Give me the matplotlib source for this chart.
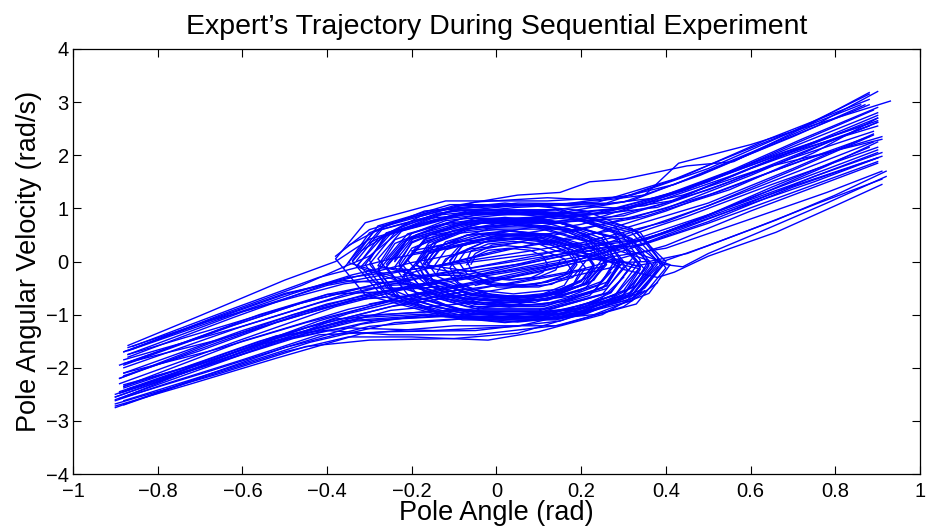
import matplotlib
matplotlib.use("Agg")
import matplotlib.pyplot as plt

# Pole angle / angular velocity samples, one list of (angle, velocity) per run.
# Runs that oscillate around upright and then fall to the negative side.
runs_fall_negative = [
    [(-.33, -.08), (-.26, .54), (-.08, .92), (.14, .92), (.32, .54), (.39, -.08), (.32, -.70),
     (.14, -1.08), (-.08, -1.08), (-.30, -1.22), (-.50, -1.62), (-.70, -2.12), (-.89, -2.58)],
    [(-.26, -.10), (-.20, .44), (-.05, .77), (.13, .77), (.28, .44), (.34, -.10), (.28, -.64),
     (.13, -.97), (-.05, -.97), (-.20, -.64), (-.34, -.72), (-.52, -1.15), (-.70, -1.68), (-.88, -2.15)],
    [(-.22, -.06), (-.17, .38), (-.05, .65), (.09, .65), (.21, .38), (.26, -.06), (.21, -.50),
     (.09, -.77), (-.05, -.77), (-.25, -.92), (-.45, -1.35), (-.66, -1.90), (-.87, -2.40)],
    [(-.15, -.12), (-.12, .22), (-.03, .43), (.09, .43), (.18, .22), (.21, -.12), (.18, -.46),
     (.09, -.67), (-.03, -.67), (-.12, -.46), (-.25, -.55), (-.45, -.98), (-.66, -1.48), (-.88, -1.92)],
    [(-.36, -.12), (-.29, .56), (-.10, .97), (.14, .97), (.33, .56), (.40, -.12), (.33, -.80),
     (.14, -1.21), (-.10, -1.21), (-.32, -1.36), (-.52, -1.82), (-.72, -2.30), (-.90, -2.72)],
    [(-.24, 0.0), (-.19, .50), (-.05, .81), (.11, .81), (.25, .50), (.30, 0.0), (.25, -.50),
     (.11, -.81), (-.05, -.81), (-.19, -.50), (-.32, -.50), (-.48, -.82), (-.68, -1.30), (-.87, -1.75)],
    [(-.33, .02), (-.27, .61), (-.10, .97), (.10, .97), (.27, .61), (.33, .02), (.27, -.57),
     (.10, -.93), (-.10, -.93), (-.27, -.57), (-.40, -.62), (-.56, -1.00), (-.73, -1.50), (-.89, -1.95)],
    [(-.11, .02), (-.08, .30), (-.01, .48), (.09, .48), (.16, .30), (.19, .02), (.16, -.26),
     (.09, -.44), (-.01, -.44), (-.08, -.26), (-.20, -.26), (-.36, -.42), (-.50, -.72), (-.68, -1.12),
     (-.87, -1.62)],
    [(-.23, -.15), (-.17, .41), (-.03, .75), (.15, .75), (.29, .41), (.35, -.15), (.29, -.71),
     (.15, -1.05), (-.03, -1.05), (-.24, -1.15), (-.44, -1.52), (-.65, -2.05), (-.88, -2.62)],
    [(-.16, -.02), (-.12, .37), (-.02, .61), (.12, .61), (.22, .37), (.26, -.02), (.22, -.41),
     (.12, -.65), (-.02, -.65), (-.12, -.41), (-.26, -.45), (-.42, -.78), (-.60, -1.22), (-.78, -1.62),
     (-.88, -1.85)],
    [(-.34, .02), (-.28, .67), (-.11, 1.07), (.11, 1.07), (.28, .67), (.34, .02), (.28, -.63),
     (.11, -1.03), (-.11, -1.03), (-.33, -1.12), (-.52, -1.50), (-.70, -1.98), (-.87, -2.40)],
    [(-.26, .05), (-.21, .52), (-.08, .81), (.08, .81), (.21, .52), (.26, .05), (.21, -.42),
     (.08, -.71), (-.08, -.71), (-.21, -.42), (-.36, -.36), (-.50, -.60), (-.66, -1.05), (-.88, -1.70)],
    [(-.26, -.05), (-.20, .53), (-.05, .88), (.15, .88), (.30, .53), (.36, -.05), (.30, -.63),
     (.15, -.98), (-.05, -.98), (-.28, -1.10), (-.48, -1.45), (-.68, -1.95), (-.89, -2.48)],
    [(-.30, .10), (-.22, .62), (-.05, .95), (.15, .98), (.32, .62), (.40, 0.0), (.35, -.50),
     (.22, -.95), (.05, -1.35), (-.10, -1.45), (-.30, -1.48), (-.45, -1.60), (-.65, -2.10), (-.90, -2.68)],
]

# Runs that oscillate around upright and then fall to the positive side.
runs_fall_positive = [
    [(.38, -.05), (.32, -.64), (.15, -1.0), (-.07, -1.0), (-.24, -.64), (-.30, -.05), (-.24, .54),
     (-.07, .90), (.15, .90), (.35, 1.05), (.55, 1.60), (.72, 2.15), (.90, 2.75)],
    [(.30, -.10), (.25, -.62), (.11, -.94), (-.07, -.94), (-.21, -.62), (-.26, -.10), (-.21, .42),
     (-.07, .74), (.11, .74), (.30, .86), (.50, 1.35), (.70, 1.95), (.89, 2.45)],
    [(.27, -.15), (.23, -.56), (.12, -.82), (-.02, -.82), (-.13, -.56), (-.17, -.15), (-.13, .26),
     (-.02, .52), (.12, .52), (.23, .26), (.29, -.02), (.36, 0.0), (.45, .15), (.60, .60), (.76, 1.10),
     (.91, 1.55)],
    [(.38, 0.0), (.31, -.65), (.13, -1.05), (-.09, -1.05), (-.27, -.65), (-.34, 0.0), (-.27, .65),
     (-.09, 1.05), (.13, 1.05), (.32, 1.25), (.50, 1.75), (.70, 2.45), (.88, 3.15)],
    [(.29, .03), (.24, -.44), (.12, -.73), (-.04, -.73), (-.16, -.44), (-.21, .03), (-.16, .50),
     (-.04, .79), (.12, .79), (.30, .95), (.48, 1.45), (.68, 2.05), (.90, 2.65)],
    [(.25, -.08), (.21, -.43), (.12, -.65), (0.0, -.65), (-.09, -.43), (-.13, -.08), (-.09, .27),
     (0.0, .49), (.12, .49), (.21, .27), (.35, .42), (.52, .90), (.70, 1.42), (.91, 1.98)],
    [(.38, -.18), (.32, -.74), (.15, -1.08), (-.05, -1.08), (-.22, -.74), (-.28, -.18), (-.22, .38),
     (-.05, .72), (.15, .72), (.32, .38), (.39, -.05), (.44, -.10), (.50, .15), (.62, .55), (.78, 1.10),
     (.92, 1.60)],
    [(.32, .05), (.26, -.51), (.11, -.85), (-.07, -.85), (-.22, -.51), (-.28, .05), (-.22, .61),
     (-.07, .95), (.11, .95), (.30, 1.12), (.48, 1.62), (.68, 2.30), (.88, 2.95)],
    [(.27, -.20), (.22, -.64), (.10, -.91), (-.04, -.91), (-.16, -.64), (-.21, -.20), (-.16, .24),
     (-.04, .51), (.10, .51), (.22, .24), (.34, .30), (.50, .72), (.70, 1.30), (.90, 1.88)],
    [(.38, .05), (.31, -.63), (.12, -1.04), (-.12, -1.04), (-.31, -.63), (-.38, .05), (-.31, .73),
     (-.12, 1.14), (.12, 1.14), (.30, 1.22), (.42, 1.45), (.60, 2.05), (.76, 2.60), (.90, 3.20)],
    [(.32, -.08), (.27, -.58), (.13, -.89), (-.03, -.89), (-.17, -.58), (-.22, -.08), (-.17, .42),
     (-.03, .73), (.13, .73), (.32, .82), (.52, 1.30), (.72, 1.90), (.91, 2.35)],
    [(.21, 0.0), (.18, -.30), (.10, -.48), (0.0, -.48), (-.08, -.30), (-.11, 0.0), (-.08, .30),
     (0.0, .48), (.10, .48), (.18, .30), (.32, .40), (.50, .88), (.70, 1.45), (.90, 2.05)],
    [(.38, -.10), (.31, -.72), (.14, -1.10), (-.08, -1.10), (-.25, -.72), (-.32, -.10), (-.25, .52),
     (-.08, .90), (.14, .90), (.32, 1.15), (.50, 1.70), (.70, 2.35), (.87, 2.95)],
    [(.30, -.30), (.24, -.75), (.10, -1.0), (-.06, -.98), (-.18, -.70), (-.22, -.28), (-.16, .15),
     (-.04, .42), (.10, .45), (.22, .20), (.30, -.15), (.38, -.30), (.42, -.20), (.50, .10), (.66, .55),
     (.80, 1.05), (.91, 1.45)],
]

# Runs with two swings (small, then wider) before the fall.
runs_two_swings = [
    [(-.17, -.05), (-.14, .26), (-.07, .49), (.03, .57), (.13, .49), (.20, .26), (.23, -.05), (.20, -.36),
     (.13, -.59), (.03, -.67), (-.07, -.59), (-.14, -.36),
     (-.28, -.08), (-.24, .41), (-.12, .77), (.04, .90), (.20, .77), (.32, .41), (.36, -.08), (.32, -.57),
     (.20, -.93), (.04, -1.06), (-.12, -.93), (-.32, -1.02), (-.52, -1.45), (-.72, -1.98), (-.89, -2.45)],
    [(.19, 0.0), (.17, -.23), (.12, -.39), (.05, -.45), (-.02, -.39), (-.07, -.23), (-.09, 0.0), (-.07, .23),
     (-.02, .39), (.05, .45), (.12, .39), (.17, .23),
     (.29, -.04), (.26, -.45), (.16, -.75), (.03, -.86), (-.10, -.75), (-.20, -.45), (-.23, -.04), (-.20, .37),
     (-.10, .67), (.03, .78), (.22, .88), (.42, 1.30), (.62, 1.90), (.88, 2.60)],
    [(-.23, -.10), (-.20, .25), (-.12, .51), (0.0, .60), (.12, .51), (.20, .25), (.23, -.10), (.20, -.45),
     (.12, -.71), (0.0, -.80), (-.12, -.71), (-.20, -.45),
     (-.33, -.10), (-.28, .43), (-.16, .81), (.02, .95), (.20, .81), (.32, .43), (.37, -.10), (.32, -.63),
     (.20, -1.01), (.02, -1.15), (-.16, -1.01), (-.36, -1.12), (-.55, -1.55), (-.74, -2.10), (-.90, -2.55)],
    [(.23, -.12), (.21, -.40), (.15, -.60), (.06, -.67), (-.03, -.60), (-.09, -.40), (-.11, -.12), (-.09, .16),
     (-.03, .36), (.06, .43), (.15, .36), (.21, .16),
     (.34, -.10), (.30, -.55), (.20, -.88), (.05, -1.0), (-.10, -.88), (-.20, -.55), (-.24, -.10), (-.20, .35),
     (-.10, .68), (.05, .80), (.25, .92), (.45, 1.38), (.65, 1.95), (.90, 2.55)],
    [(.15, .02), (.14, -.16), (.10, -.29), (.04, -.34), (-.02, -.29), (-.06, -.16), (-.07, .02), (-.06, .20),
     (-.02, .33), (.04, .38), (.10, .33), (.14, .20),
     (.26, 0.0), (.23, -.35), (.15, -.61), (.04, -.70), (-.07, -.61), (-.15, -.35), (-.18, 0.0), (-.15, .35),
     (-.07, .61), (.04, .70), (.15, .61), (.23, .35), (.28, .05), (.33, -.08), (.40, .02), (.50, .30),
     (.66, .78), (.80, 1.25), (.92, 1.70)],
    [(-.24, .03), (-.21, .43), (-.11, .73), (.02, .83), (.15, .73), (.25, .43), (.28, .03), (.25, -.37),
     (.15, -.67), (.02, -.77), (-.11, -.67), (-.21, -.37),
     (-.35, -.02), (-.30, .54), (-.17, .95), (.02, 1.10), (.21, .95), (.34, .54), (.39, -.02), (.34, -.58),
     (.21, -.99), (.02, -1.14), (-.17, -.99), (-.38, -1.08), (-.56, -1.50), (-.74, -2.0), (-.88, -2.35)],
    [(.20, -.15), (.18, -.45), (.11, -.67), (.01, -.75), (-.09, -.67), (-.16, -.45), (-.18, -.15), (-.16, .15),
     (-.09, .37), (.01, .45), (.11, .37), (.18, .15),
     (.34, -.14), (.30, -.62), (.19, -.97), (.03, -1.09), (-.13, -.97), (-.24, -.62), (-.28, -.14), (-.24, .34),
     (-.13, .69), (.03, .81), (.24, .90), (.44, 1.25), (.64, 1.78), (.91, 2.30)],
    [(-.07, -.06), (-.05, .15), (-.01, .31), (.06, .36), (.13, .31), (.17, .15), (.19, -.06), (.17, -.27),
     (.13, -.43), (.06, -.48), (-.01, -.43), (-.05, -.27),
     (-.19, -.08), (-.16, .30), (-.07, .58), (.05, .68), (.17, .58), (.26, .30), (.29, -.08), (.26, -.46),
     (.17, -.74), (.05, -.84), (-.07, -.74), (-.16, -.46), (-.21, -.15), (-.27, -.12), (-.34, -.25),
     (-.48, -.60), (-.66, -1.10), (-.87, -1.68)],
    [(.25, .05), (.22, -.28), (.15, -.52), (.04, -.61), (-.07, -.52), (-.14, -.28), (-.17, .05), (-.14, .38),
     (-.07, .62), (.04, .71), (.15, .62), (.22, .38),
     (.36, .02), (.32, -.49), (.20, -.87), (.03, -1.0), (-.14, -.87), (-.26, -.49), (-.30, .02), (-.26, .53),
     (-.14, .91), (.03, 1.04), (.24, 1.12), (.42, 1.55), (.62, 2.20), (.86, 2.95)],
    [(-.14, -.20), (-.12, .05), (-.06, .24), (.02, .30), (.10, .24), (.16, .05), (.18, -.20), (.16, -.45),
     (.10, -.64), (.02, -.70), (-.06, -.64), (-.12, -.45),
     (-.23, -.16), (-.19, .27), (-.10, .59), (.04, .70), (.18, .59), (.27, .27), (.31, -.16), (.27, -.59),
     (.18, -.91), (.04, -1.02), (-.10, -.91), (-.30, -1.02), (-.50, -1.40), (-.70, -1.92), (-.88, -2.32)],
    [(.29, -.02), (.26, -.39), (.17, -.66), (.05, -.76), (-.07, -.66), (-.16, -.39), (-.19, -.02), (-.16, .35),
     (-.07, .62), (.05, .72), (.17, .62), (.26, .35),
     (.41, -.06), (.36, -.60), (.23, -1.0), (.05, -1.14), (-.13, -1.0), (-.26, -.60), (-.31, -.06), (-.26, .48),
     (-.13, .88), (.05, 1.02), (.26, 1.10), (.44, 1.60), (.64, 2.30), (.88, 3.05)],
    [(-.06, -.05), (-.05, .10), (-.02, .21), (.03, .25), (.08, .21), (.11, .10), (.12, -.05), (.11, -.20),
     (.08, -.31), (.03, -.35), (-.02, -.31), (-.05, -.20),
     (-.17, -.06), (-.14, .26), (-.07, .50), (.03, .58), (.13, .50), (.20, .26), (.23, -.06), (.20, -.38),
     (.13, -.62), (.03, -.70), (-.07, -.62), (-.25, -.75), (-.45, -1.15), (-.66, -1.65), (-.88, -2.10)],
]

# Runs that sweep along the whole diagonal band or its outer edges.
runs_sweep = [
    [(-.87, -1.58), (-.70, -1.02), (-.50, -.35), (-.38, 0.0), (-.30, .42), (-.15, .78), (.05, .95),
     (.25, .90), (.38, 1.02), (.55, 1.50), (.72, 2.05), (.90, 2.62)],
    [(-.89, -2.30), (-.62, -1.52), (-.38, -.85), (-.15, -.38), (.05, -.05), (.25, .32), (.45, .85),
     (.65, 1.45), (.90, 2.15)],
    [(-.88, -2.0), (-.60, -1.22), (-.35, -.60), (-.10, -.18), (.10, .12), (.30, .50), (.50, 1.05),
     (.70, 1.72), (.89, 2.38)],
    [(-.90, -2.50), (-.65, -1.80), (-.42, -1.12), (-.20, -.62), (0.0, -.30), (.20, .05), (.38, .50),
     (.58, 1.12), (.78, 1.80), (.90, 2.25)],
    [(-.87, -1.80), (-.62, -1.05), (-.40, -.42), (-.20, -.02), (0.0, .28), (.20, .60), (.40, 1.0),
     (.60, 1.62), (.80, 2.30), (.90, 2.62)],
    [(-.35, .30), (-.25, .72), (-.10, 1.05), (.05, 1.25), (.15, 1.30), (.22, 1.50), (.30, 1.55),
     (.45, 1.80), (.56, 1.88), (.72, 2.50), (.88, 3.18)],
    [(-.30, .35), (-.18, .85), (-.05, 1.12), (.12, 1.20), (.25, 1.15), (.35, 1.25), (.43, 1.85),
     (.60, 2.20), (.93, 3.02)],
    [(.35, -.55), (.25, -1.0), (.10, -1.32), (-.02, -1.48), (-.20, -1.42), (-.35, -1.42), (-.50, -1.70),
     (-.70, -2.20), (-.88, -2.70)],
    [(.30, -.70), (.15, -1.12), (-.05, -1.30), (-.25, -1.32), (-.42, -1.38), (-.60, -1.85), (-.78, -2.30),
     (-.90, -2.62)],
    [(-.88, -2.10), (-.60, -1.30), (-.40, -.80), (-.20, -.45), (0.0, -.20), (.20, .10), (.40, .55),
     (.60, 1.20), (.90, 2.10)],
    [(-.87, -1.75), (-.60, -.95), (-.40, -.45), (-.20, -.15), (0.0, .10), (.20, .35), (.40, .75),
     (.60, 1.35), (.89, 2.25)],
    [(-.90, -2.60), (-.60, -1.75), (-.40, -1.15), (-.20, -.75), (0.0, -.45), (.20, -.15), (.40, .30),
     (.60, .95), (.90, 1.85)],
    [(-.88, -2.35), (-.60, -1.50), (-.35, -.90), (-.15, -.55), (.05, -.25), (.25, .15), (.45, .70),
     (.65, 1.40), (.88, 2.15)],
    [(-.86, -1.60), (-.62, -.88), (-.42, -.30), (-.25, .05), (-.05, .35), (.15, .55), (.35, .85),
     (.55, 1.35), (.75, 2.05), (.90, 2.70)],
    [(-.89, -2.20), (-.65, -1.50), (-.45, -.95), (-.25, -.55), (-.05, -.30), (.15, -.05), (.35, .35),
     (.55, .95), (.75, 1.60), (.91, 2.05)],
    [(.38, -.40), (.30, -.85), (.15, -1.20), (-.05, -1.38), (-.25, -1.38), (-.40, -1.30), (-.55, -1.55),
     (-.72, -2.05), (-.90, -2.55)],
    [(.33, -.45), (.22, -.90), (.05, -1.22), (-.15, -1.30), (-.35, -1.25), (-.52, -1.40), (-.70, -1.90),
     (-.88, -2.38)],
    [(-.38, .10), (-.30, .60), (-.15, .95), (.05, 1.10), (.25, 1.08), (.38, 1.20), (.55, 1.70),
     (.72, 2.30), (.90, 2.90)],
    [(-.32, .20), (-.22, .68), (-.08, 1.0), (.10, 1.08), (.30, 1.0), (.42, 1.15), (.60, 1.75), (.90, 2.70)],
]

# Falls that cover one half of the band and part of the centre.
runs_band_negative = [
    [(-.88, -1.70), (-.70, -1.18), (-.50, -.62), (-.35, -.30), (-.20, -.15), (0.0, .05), (.15, .20)],
    [(-.89, -2.20), (-.68, -1.55), (-.48, -1.0), (-.30, -.60), (-.12, -.35), (.05, -.15), (.20, .05)],
    [(-.90, -2.75), (-.70, -2.18), (-.50, -1.62), (-.32, -1.18), (-.12, -.95), (.05, -.80), (.20, -.55)],
    [(-.87, -1.90), (-.66, -1.30), (-.46, -.78), (-.28, -.42), (-.10, -.22), (.08, -.02), (.25, .25)],
    [(-.88, -2.45), (-.66, -1.82), (-.45, -1.25), (-.25, -.85), (-.05, -.60), (.12, -.38), (.28, -.10)],
    [(-.86, -1.65), (-.65, -1.0), (-.46, -.45), (-.36, -.10), (-.30, .10)],
    [(-.88, -2.55), (-.60, -1.65), (-.35, -.98), (-.15, -.60), (.05, -.40), (.25, -.10)],
    [(-.88, -1.95), (-.62, -1.20), (-.40, -.62), (-.20, -.30), (0.0, -.05), (.20, .20)],
]
runs_band_positive = [
    [(-.15, -.10), (.10, .35), (.30, .62), (.50, 1.10), (.70, 1.75), (.89, 2.40)],
    [(-.10, -.35), (.15, .10), (.35, .40), (.55, .95), (.75, 1.50), (.90, 1.95)],
    [(-.20, .20), (.05, .60), (.25, .85), (.45, 1.35), (.65, 2.0), (.90, 2.80)],
    [(-.05, -.45), (.20, 0.0), (.40, .25), (.60, .80), (.78, 1.30), (.91, 1.70)],
    [(-.22, -.25), (0.0, .20), (.20, .45), (.40, .95), (.60, 1.55), (.88, 2.35)],
    [(-.15, .50), (.10, .85), (.30, 1.0), (.50, 1.50), (.70, 2.20), (.89, 2.85)],
    [(-.30, -.80), (-.10, -.50), (.10, -.20), (.30, .20), (.50, .75), (.70, 1.40), (.90, 1.95)],
    [(-.20, .15), (0.0, .45), (.20, .70), (.40, 1.10), (.60, 1.75), (.88, 2.55)],
]

x_ticks = [-1, -0.8, -0.6, -0.4, -0.2, 0, 0.2, 0.4, 0.6, 0.8, 1]
x_tick_labels = ["\u22121", "\u22120.8", "\u22120.6", "\u22120.4", "\u22120.2", "0",
                 "0.2", "0.4", "0.6", "0.8", "1"]
y_ticks = [-4, -3, -2, -1, 0, 1, 2, 3, 4]
y_tick_labels = ["\u22124", "\u22123", "\u22122", "\u22121", "0", "1", "2", "3", "4"]

plt.rcParams["font.family"] = ["Liberation Sans", "DejaVu Sans"]

fig = plt.figure(figsize=(9.28, 5.31), dpi=100)
ax = fig.add_axes([73 / 928, 57 / 531, 847 / 928, 425 / 531])

for group in (runs_fall_negative, runs_fall_positive, runs_two_swings, runs_sweep,
              runs_band_negative, runs_band_positive):
    for run in group:
        ax.plot([p[0] for p in run], [p[1] for p in run], color="#0000ff", lw=1.0)

ax.set_xlim(-1, 1)
ax.set_ylim(-4, 4)
ax.set_xticks(x_ticks)
ax.set_xticklabels(x_tick_labels)
ax.set_yticks(y_ticks)
ax.set_yticklabels(y_tick_labels)
ax.tick_params(direction="in", length=6, width=0.8, top=True, right=True, labelsize=14.5)
ax.tick_params(axis="x", pad=6)
ax.tick_params(axis="y", pad=3)
for sp in ax.spines.values():
    sp.set_linewidth(0.9)

ax.set_title("Expert\u2019s Trajectory During Sequential Experiment", fontsize=20.5, pad=11)
ax.set_xlabel("Pole Angle (rad)", fontsize=19.5, labelpad=-1)
ax.set_ylabel("Pole Angular Velocity (rad/s)", fontsize=19.5, labelpad=3)

fig.savefig("out.png", dpi=100)
